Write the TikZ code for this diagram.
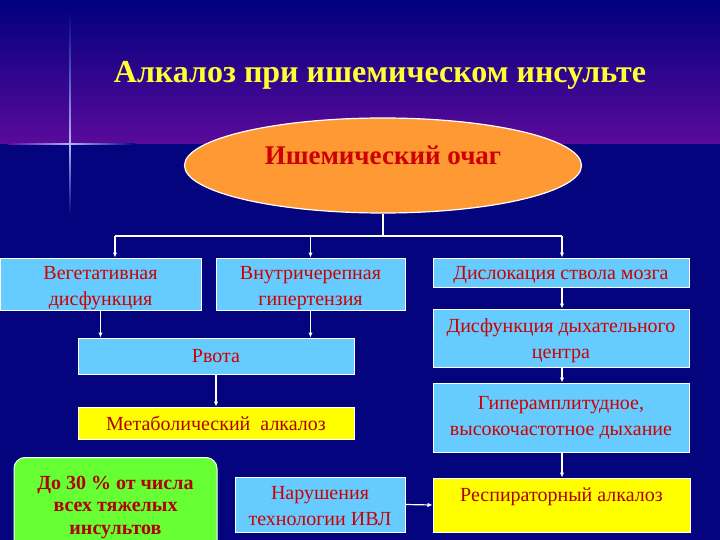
\documentclass[tikz,border=0pt]{standalone}
\usepackage{fontspec}
\setmainfont{Liberation Serif}
\usetikzlibrary{shapes.geometric,arrows.meta}
\definecolor{bgtop}{HTML}{00007E}
\definecolor{bgmid}{HTML}{5A0A9A}
\definecolor{bglow}{HTML}{04047E}
\definecolor{boxblue}{HTML}{66CCFF}
\definecolor{boxyel}{HTML}{FFFF00}
\definecolor{boxgrn}{HTML}{66FF33}
\definecolor{ovalor}{HTML}{FF9933}
\definecolor{txtred}{HTML}{CC0000}
\definecolor{txtdred}{HTML}{B00000}
\definecolor{titley}{HTML}{FFFF33}
\tikzset{
  box/.style={draw=white, line width=1pt, inner sep=0pt, align=center,
    text=txtred, font=\fontsize{20}{26}\selectfont},
  bluebox/.style={box, fill=boxblue},
  yelbox/.style={box, fill=boxyel, text=txtdred},
  txt/.style={align=center, inner sep=0pt, text=txtred, font=\fontsize{20}{26}\selectfont},
  ytxt/.style={txt, text=txtdred},
  arr/.style={draw=white, line width=1.2pt, -{Latex[length=5pt,width=4.5pt]}},
  ln/.style={draw=white, line width=1.2pt}
}
\begin{document}
\begin{tikzpicture}[x=1pt,y=-1pt]
\useasboundingbox (0,0) rectangle (720,540);
\clip (0,0) rectangle (720,540);
% background
\shade[top color=bgtop, bottom color=bgmid] (0,0) rectangle (720,144);
\fill[bglow] (0,144) rectangle (720,540);
% flare
\shade[top color=bgtop, bottom color=white!70!blue] (69.2,10) rectangle (70.8,144);
\shade[top color=white!70!blue, bottom color=bglow] (69.2,144) rectangle (70.8,215);
\shade[left color=bgmid, right color=white!70!blue] (8,143.3) rectangle (70,144.7);
\shade[left color=white!70!blue, right color=bglow] (70,143.3) rectangle (135,144.7);
% title
\node[text=titley, font=\fontsize{32}{38}\selectfont\bfseries] (title) at (380,75) {Алкалоз при ишемическом инсульте};
% oval
\node[ellipse, draw=white, line width=1.2pt, fill=ovalor, minimum width=397, minimum height=95, inner sep=0pt,
      label={[txt, font=\fontsize{27}{32}\selectfont\bfseries, yshift=10pt]center:Ишемический очаг}] (oval) at (383,165.5) {};
% boxes
\node[bluebox, minimum width=201, minimum height=52,
      label={[txt, yshift=-4.5pt]center:{Вегетативная\\дисфункция}}] (veg) at (100.5,284) {};
\node[bluebox, minimum width=189, minimum height=52,
      label={[txt, yshift=-4.5pt]center:{Внутричерепная\\гипертензия}}] (vnu) at (310.5,284) {};
\node[bluebox, minimum width=256, minimum height=29,
      label={[txt, yshift=-3pt]center:Дислокация ствола мозга}] (dis) at (561,272.5) {};
\node[bluebox, minimum width=256, minimum height=58,
      label={[txt, yshift=-2.5pt]center:{Дисфункция дыхательного\\центра}}] (dfc) at (561,338) {};
\node[bluebox, minimum width=276, minimum height=36] (rvo) at (216,356) {Рвота};
\node[bluebox, minimum width=256, minimum height=69,
      label={[txt]center:{Гиперамплитудное,\\высокочастотное дыхание}}] (gip) at (561,417.5) {};
\node[yelbox, minimum width=276, minimum height=32] (met) at (216,423) {Метаболический\ \ алкалоз};
\node[draw=white, line width=1pt, fill=boxgrn, rounded corners=11pt, minimum width=203, minimum height=95,
      inner sep=0pt,
      label={[txt, text=txtdred, font=\fontsize{20}{22.5}\selectfont\bfseries, yshift=-2.5pt]center:{До 30 \% от числа\\всех тяжелых\\инсультов}}] (grn) at (115.5,505) {};
\node[bluebox, minimum width=170, minimum height=55,
      label={[txt, yshift=-2pt]center:{Нарушения\\технологии ИВЛ}}] (nar) at (320,504.5) {};
\node[yelbox, minimum width=257, minimum height=54,
      label={[ytxt, yshift=8pt]center:Респираторный алкалоз}] (res) at (561.5,505) {};
% connectors
\coordinate (bus) at (383,236);
\draw[ln] (oval.south) -- (bus);
\draw[ln] (bus) -- (bus -| 562,0) ;
\draw[ln] (bus) -- (bus -| 115,0);
\draw[arr] (bus -| 115,0) -- (veg.north -| 115,0);
\draw[arr] (bus -| vnu.north) -- (vnu.north);
\draw[arr] (bus -| 562,0) -- (dis.north -| 562,0);
\draw[arr] (veg.south) -- (veg.south |- rvo.north);
\draw[arr] (vnu.south) -- (vnu.south |- rvo.north);
\draw[arr] (rvo.south) -- (met.north);
\draw[arr] (dis.south -| 562,0) -- (dfc.north -| 562,0);
\draw[arr] (dfc.south -| 562,0) -- (gip.north -| 562,0);
\draw[arr] (gip.south -| 562,0) -- (res.north -| 562,0);
\draw[arr] (nar.east) -- (res.west);
\end{tikzpicture}
\end{document}
